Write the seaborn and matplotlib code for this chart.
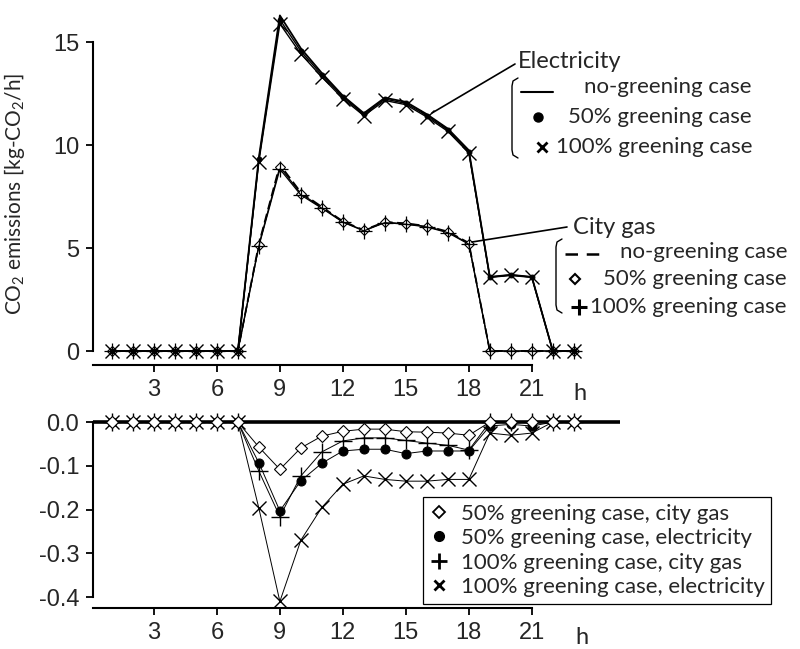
import numpy as np
import pandas as pd
import seaborn as sns
import matplotlib.pyplot as plt
from matplotlib.lines import Line2D

# hours of the day
hours = list(range(1, 24))

# no-greening case, CO2 emissions [kg-CO2/h]
elec_base = [0, 0, 0, 0, 0, 0, 0, 9.4, 16.3, 14.7, 13.5, 12.4, 11.55, 12.3,
             12.1, 11.5, 10.8, 9.75, 3.6, 3.7, 3.6, 0, 0]
gas_base = [0, 0, 0, 0, 0, 0, 0, 5.2, 9.05, 7.7, 7.0, 6.3, 5.87, 6.27,
            6.2, 6.07, 5.8, 5.25, 0, 0, 0, 0, 0]

# difference from no-greening case
diff_gas50 = [0, 0, 0, 0, 0, 0, 0, -0.057, -0.108, -0.059, -0.032, -0.021, -0.016, -0.016,
              -0.022, -0.023, -0.025, -0.030, 0, 0, 0, 0, 0]
diff_elec50 = [0, 0, 0, 0, 0, 0, 0, -0.093, -0.203, -0.134, -0.094, -0.066, -0.062, -0.062,
               -0.072, -0.066, -0.066, -0.066, -0.009, -0.005, -0.009, 0, 0]
diff_gas100 = [0, 0, 0, 0, 0, 0, 0, -0.112, -0.216, -0.123, -0.068, -0.043, -0.036, -0.036,
               -0.042, -0.048, -0.053, -0.064, 0, 0, 0, 0, 0]
diff_elec100 = [0, 0, 0, 0, 0, 0, 0, -0.197, -0.41, -0.27, -0.195, -0.142, -0.123, -0.131,
                -0.135, -0.135, -0.131, -0.131, -0.025, -0.03, -0.025, 0, 0]

xticks = [3, 6, 9, 12, 15, 18, 21]

sns.set_theme(style="ticks")
plt.rcParams['font.family'] = ['Lato', 'DejaVu Sans']
plt.rcParams['axes.unicode_minus'] = False
plt.rcParams['mathtext.fontset'] = 'custom'
plt.rcParams['mathtext.rm'] = 'Lato'
plt.rcParams['mathtext.it'] = 'Lato:italic'

df = pd.DataFrame({'h': hours, 'elec': elec_base, 'gas': gas_base,
                   'd_gas50': diff_gas50, 'd_elec50': diff_elec50,
                   'd_gas100': diff_gas100, 'd_elec100': diff_elec100})
df['elec50'] = df['elec'] + df['d_elec50']
df['elec100'] = df['elec'] + df['d_elec100']
df['gas50'] = df['gas'] + df['d_gas50']
df['gas100'] = df['gas'] + df['d_gas100']

W, H = 800, 649
fig = plt.figure(figsize=(8, 6.49), dpi=100)
ax1 = fig.add_axes([93 / W, 1 - 365 / H, 527 / W, 364 / H])
ax2 = fig.add_axes([93 / W, 1 - 608 / H, 527 / W, 199 / H])

def fx(p):
    return p / W

def fy(p):
    return 1 - p / H

k = dict(color='black', ax=ax1, mec='black')
# top panel
sns.lineplot(data=df, x='h', y='gas', lw=1.3, ls=(0, (5, 2.5)), **k)
sns.lineplot(data=df, x='h', y='gas50', lw=0.9, marker='D', ms=5.5, mfc='white', mew=0.8, **k)
sns.lineplot(data=df, x='h', y='gas100', lw=0.9, marker='+', ms=11, mew=0.9, **k)
sns.lineplot(data=df, x='h', y='elec', lw=1.3, **k)
sns.lineplot(data=df, x='h', y='elec50', lw=1.0, marker='o', ms=3.5, **k)
sns.lineplot(data=df, x='h', y='elec100', lw=1.0, marker='x', ms=10, mew=1.0, **k)

# bottom panel
k2 = dict(color='black', ax=ax2, lw=0.7, mec='black')
ax2.axhline(0, color='black', lw=2.6, zorder=1)
sns.lineplot(data=df, x='h', y='d_elec100', marker='x', ms=10, mew=1.0, **k2)
sns.lineplot(data=df, x='h', y='d_elec50', marker='o', ms=6.5, **k2)
sns.lineplot(data=df, x='h', y='d_gas100', marker='+', ms=13, mew=1.0, **k2)
sns.lineplot(data=df, x='h', y='d_gas50', marker='D', ms=6, mfc='white', mew=0.8, **k2)

for ax in (ax1, ax2):
    ax.set_xlim(0.1, 25.2)
    ax.set_xticks(xticks)
    ax.set_xlabel('')
    ax.set_ylabel('')
    sns.despine(ax=ax)
    for s in ('left', 'bottom'):
        ax.spines[s].set_linewidth(1.5)
        ax.spines[s].set_color('black')
    ax.spines['bottom'].set_bounds(0.1, 21)
    ax.tick_params(axis='both', direction='out', length=5, width=1.3, color='black',
                   labelsize=17, pad=5)
    ax.patch.set_alpha(0)

ax1.set_ylim(-0.68, 17)
ax1.set_yticks([0, 5, 10, 15])
ax1.spines['left'].set_bounds(0, 15)
ax1.set_ylabel('CO$_2$ emissions [kg-CO$_2$/h]', fontsize=15)
ax1.yaxis.set_label_coords(-0.125, 0.47)

ax2.set_ylim(-0.425, 0.03)
ax2.set_yticks([0, -0.1, -0.2, -0.3, -0.4])
ax2.set_yticklabels(['0.0', '-0.1', '-0.2', '-0.3', '-0.4'])
ax2.spines['left'].set_bounds(-0.4, 0)
for ax in (ax1, ax2):
    for t in ax.get_xticklabels() + ax.get_yticklabels():
        t.set_family('Liberation Sans')

fig.text(fx(580), fy(393), 'h', fontsize=17, ha='center', va='center')
fig.text(fx(582), fy(637), 'h', fontsize=17, ha='center', va='center')

# top annotations with brackets
fs = 16
def bracket(x, y0, y1):
    fig.add_artist(Line2D([fx(x + 6), fx(x + 1), fx(x), fx(x), fx(x + 1), fx(x + 6)],
                          [fy(y0), fy(y0 + 3), fy(y0 + 8), fy(y1 - 8), fy(y1 - 3), fy(y1)],
                          color='black', lw=1.0))

fig.add_artist(Line2D([fx(515), fx(432)], [fy(64), fy(113)], color='black', lw=1.2))
fig.text(fx(518), fy(62), 'Electricity', fontsize=fs + 1, ha='left', va='center')
bracket(512, 78, 158)
fig.add_artist(Line2D([fx(521), fx(553)], [fy(92), fy(92)], color='black', lw=1.5))
fig.add_artist(Line2D([fx(538)], [fy(117)], color='black', marker='o', ms=6.5, ls='none'))
fig.add_artist(Line2D([fx(542)], [fy(147)], color='black', marker='x', ms=6.5, mew=2, ls='none'))
fig.text(fx(752), fy(87), 'no-greening case', fontsize=fs, ha='right', va='center')
fig.text(fx(752), fy(117), '50% greening case', fontsize=fs, ha='right', va='center')
fig.text(fx(752), fy(147), '100% greening case', fontsize=fs, ha='right', va='center')

fig.add_artist(Line2D([fx(567), fx(472)], [fy(227), fy(242)], color='black', lw=1.2))
fig.text(fx(573), fy(227), 'City gas', fontsize=fs + 1, ha='left', va='center')
bracket(556, 239, 313)
fig.add_artist(Line2D([fx(565), fx(602)], [fy(254), fy(254)], color='black', lw=1.8,
                      ls=(0, (5, 3.5))))
fig.add_artist(Line2D([fx(575)], [fy(279)], color='black', marker='D', ms=5.5, mfc='white',
                      mew=1.5, ls='none'))
fig.add_artist(Line2D([fx(579)], [fy(307)], color='black', marker='+', ms=11, mew=2.2, ls='none'))
fig.text(fx(787), fy(252), 'no-greening case', fontsize=fs, ha='right', va='center')
fig.text(fx(787), fy(279), '50% greening case', fontsize=fs, ha='right', va='center')
fig.text(fx(787), fy(307), '100% greening case', fontsize=fs, ha='right', va='center')

# bottom legend
handles = [Line2D([], [], ls='none', marker='D', ms=6, mfc='white', mec='black', mew=1.3),
           Line2D([], [], ls='none', marker='o', ms=7, color='black'),
           Line2D([], [], ls='none', marker='+', ms=12, mew=2, color='black'),
           Line2D([], [], ls='none', marker='x', ms=7, mew=2, color='black')]
labels = ['50% greening case, city gas', '50% greening case, electricity',
          '100% greening case, city gas', '100% greening case, electricity']
leg = ax2.legend(handles, labels, loc='upper left', bbox_to_anchor=(fx(423), fy(497)),
                 bbox_transform=fig.transFigure, fontsize=fs, frameon=True, fancybox=False,
                 edgecolor='black', framealpha=1, handlelength=0.8, handletextpad=0.6,
                 labelspacing=0.2, borderpad=0.3, borderaxespad=0)
leg.get_frame().set_linewidth(0.9)

fig.savefig('out.png', dpi=100)
